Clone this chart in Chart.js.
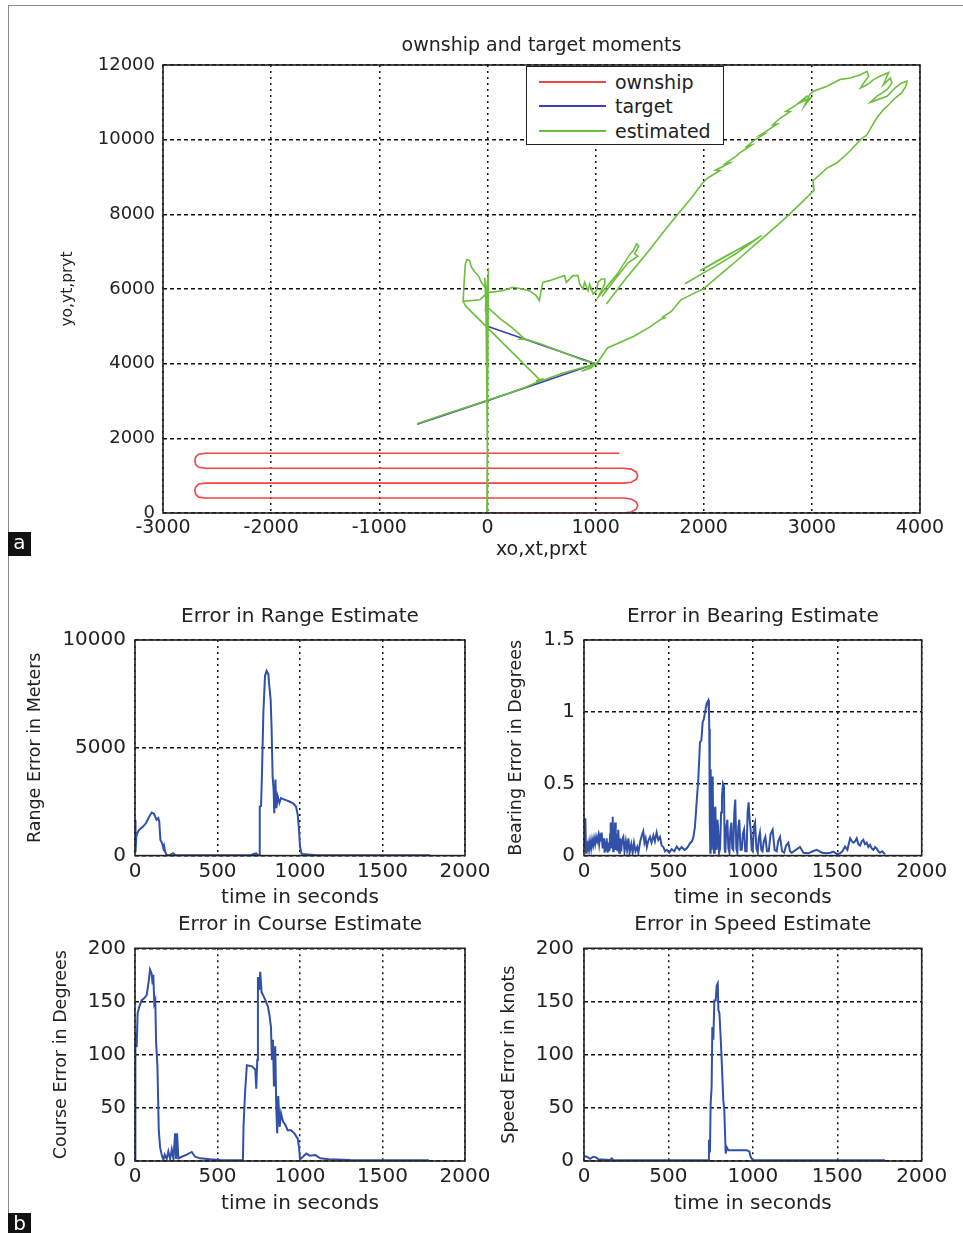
<!DOCTYPE html>
<html>
<head>
<meta charset="utf-8">
<title>ownship and target moments</title>
<script src="https://cdn.jsdelivr.net/npm/chart.js@4.4.0/dist/chart.umd.min.js"></script>
<style>
  body { margin: 0; background: #fff; }
  #page { position: relative; width: 963px; height: 1233px; overflow: hidden; background: #fff; }
  canvas { position: absolute; }
  .frame { position: absolute; left: 8px; top: 5px; width: 1000px; height: 1300px;
           border-left: 1.5px solid #8a8a8a; border-top: 1.5px solid #8a8a8a; }
  .tag { position: absolute; left: 8px; width: 23px; height: 24px; background: #111; color: #fff;
         font: 20px "DejaVu Sans", sans-serif; text-align: center; line-height: 21px; }
  #legend { position: absolute; left: 526px; top: 66px; width: 196px; height: 77px; background: #fff;
            border: 1.5px solid #222; font: 19px "DejaVu Sans", sans-serif; color: #222; }
  .entry { position: absolute; left: 12px; height: 24px; display: flex; align-items: center; white-space: nowrap; }
  .entry span { display: inline-block; width: 67px; height: 2px; margin-right: 9px; }
</style>
</head>
<body>
<div id="page">
  <div class="frame"></div>
  <canvas id="topChart" width="963" height="580" style="left:0;top:0"></canvas>
  <canvas id="rangeChart" width="495" height="335" style="left:0;top:585px"></canvas>
  <canvas id="bearingChart" width="483" height="335" style="left:480px;top:585px"></canvas>
  <canvas id="courseChart" width="495" height="330" style="left:0;top:895px"></canvas>
  <canvas id="speedChart" width="483" height="330" style="left:480px;top:895px"></canvas>
  <div id="legend"></div>
  <div class="tag" style="top:532px">a</div>
  <div class="tag" style="top:1213px">b</div>
</div>
<script>
const FONT = '"DejaVu Sans", Verdana, sans-serif';
const INK = '#222';

// ---- top plot: tracks in the x-y plane ----
const ownshipX = [0, 1260, 1330, 1375, 1390, 1375, 1330, 1260,
  -2610, -2670, -2698, -2705, -2698, -2670, -2610,
  1260, 1330, 1375, 1390, 1375, 1330, 1260,
  -2610, -2670, -2698, -2705, -2698, -2670, -2610, 1220];
const ownshipY = [0, 0, 25, 100, 200, 300, 375, 400,
  400, 425, 500, 600, 700, 775, 800,
  800, 825, 900, 1000, 1100, 1175, 1200,
  1200, 1225, 1300, 1400, 1500, 1575, 1600, 1600];

const targetX = [-650, 0, 500, 1000, 500, 0];
const targetY = [2380, 3010, 3500, 4000, 4500, 5000];

// estimated track, null = break in the line
const estX = [
  5, 0, -5, 10, -10, -25, 5, -15, 0, -5, 8, -20, 0, null,
  0, -30, -60, -80, -120, -150, -165, -190, -205, -215, -225, -70, -20, 0, null,
  -225, -200, 480, 450, 520, null,
  0, 5, 120, 230, 330, 300, 360, 500, 700, 880, 980, null,
  -650, -400, -100, 0, 200, 350, 480, 520, 700, 850,
  950, 1000, 930, 870, 960, 1020, 1110, 1350, 1500, 1600,
  1640, 1620, 1700, 1790, 1900, 2000, 2150, 2310, 2520, 2730,
  2900, 3020, 3010, 3140, 3230, 3350, 3450, 3510, 3555, 3600,
  3660, 3695, 3770, 3830, 3870, 3880, 3830, 3770, 3695, 3540,
  3600, 3695, 3740, 3725, 3660, 3710, 3630, 3570, 3510, 3450,
  3480, 3525, 3510, 3450, 3355, 3260, 3140, 3015, 2980, 2930,
  2990, 2900, 2960, 2850, 2760, 2800, 2700, 2640, 2680, 2580,
  2520, 2560, 2450, 2400, 2440, 2330, 2300, 2200, 2240, 2110,
  2150, 2040, 1990, 1880, 1760, 1620, 1500, 1400, 1280, 1100, null,
  0, 15, 140, 233, 326, 388, 450, 481, 496, 512,
  574, 667, 713, 729, 791, 837, 853, 884, 899, 930,
  946, 977, 1008, 1023, 1054, 1085, 1085, 1039, 1023, 1200,
  1320, 1350, 1380, 1400, 1360, 1390, 1300, 1150, 1060, null,
  1826, 2100, 2300, 2536, 2400, 2200, 1966, 2100, 2450
];
const estY = [
  0, 3000, 5200, 6560, 5300, 6300, 5100, 6000, 1600, 0, 6400, 5400, 6200, null,
  6000, 6070, 6200, 6340, 6470, 6600, 6760, 6790, 6650, 6200, 5670, 5710, 5850, 5900, null,
  5670, 5540, 3580, 3530, 3600, null,
  5900, 5500, 5200, 4960, 4700, 4660, 4650, 4520, 4300, 4100, 4020, null,
  2390, 2640, 2920, 3020, 3210, 3370, 3530, 3560, 3750, 3870,
  3950, 4000, 3870, 3800, 3890, 4040, 4420, 4730, 4980, 5180,
  5230, 5250, 5400, 5710, 5870, 6010, 6380, 6770, 7300, 7830,
  8300, 8640, 8900, 9240, 9375, 9690, 10000, 10130, 10360, 10580,
  10800, 10890, 11115, 11250, 11430, 11565, 11520, 11385, 11160, 11000,
  11160, 11340, 11520, 11650, 11470, 11800, 11700, 11610, 11470, 11385,
  11520, 11700, 11830, 11740, 11650, 11610, 11430, 11295, 11210, 10900,
  11120, 11000, 11180, 10920, 10760, 10750, 10560, 10400, 10420, 10230,
  10120, 10150, 9950, 9820, 9850, 9640, 9560, 9360, 9380, 9180,
  9170, 8980, 8840, 8420, 8000, 7500, 7050, 6700, 6280, 5600, null,
  5910, 5910, 5955, 6045, 6000, 5955, 5821, 5686, 5955, 6179,
  6224, 6314, 6359, 6179, 6359, 6359, 6135, 6000, 6179, 5955,
  6135, 5865, 5955, 6179, 6269, 6269, 6135, 5865, 5776, 6400,
  6940, 7030, 7210, 7150, 6950, 6880, 6700, 6150, 5800, null,
  6142, 6600, 6950, 7436, 7180, 6880, 6490, 6700, 7280
];

// ---- error plots (time in seconds) ----
const rangeTime = [0, 2, 4, 8, 14, 26, 46, 67, 87, 101, 115, 131, 141, 147, 154, 164, 172, 176, 182, 192,
  210, 232, 245, 300, 400, 500, 600, 700, 727, 732, 737, 745, 754, 756, 764, 770, 778, 788, 798, 808,
  814, 822, 828, 834, 840, 844, 851, 857, 865, 875, 885, 899, 919, 939, 960, 976, 986, 994, 1000, 1010,
  1100, 1300, 1500, 1700, 1788];
const rangeErr = [1500, 1660, 150, 890, 1050, 1200, 1320, 1510, 1820, 2000, 1940, 1660, 1740, 1580, 730, 580, 340, 450, 190, 30,
  20, 110, 20, 15, 15, 15, 15, 15, 100, 20, 90, 15, 20, 2280, 2300, 3910, 6630, 8340, 8570, 8420,
  7870, 7250, 5860, 3680, 3060, 1970, 3530, 2200, 2750, 2440, 2670, 2620, 2560, 2500, 2410, 2280, 1900, 1200, 420, 80,
  15, 15, 15, 15, 15];

const bearingTime = [0, 3, 5, 8, 12, 16, 20, 25, 30, 36,
  42, 48, 54, 60, 66, 72, 78, 85, 90, 95,
  100, 105, 110, 118, 122, 126, 130, 134, 140, 144,
  150, 155, 158, 162, 166, 170, 173, 176, 180, 184,
  188, 193, 198, 203, 208, 213, 220, 226, 233, 240,
  248, 255, 263, 270, 280, 288, 296, 305, 315, 322,
  333, 345, 351, 358, 365, 372, 380, 391, 400, 411,
  420, 430, 440, 450, 460, 470, 480, 490, 505, 519,
  535, 549, 565, 578, 595, 608, 620, 628, 640, 648,
  657, 667, 677, 687, 695, 703, 710, 717, 727, 736,
  740, 742, 744, 746, 748, 750, 753, 756, 759, 762,
  766, 770, 774, 778, 782, 786, 790, 794, 800, 806,
  812, 817, 823, 829, 833, 837, 843, 849, 855, 861,
  867, 873, 878, 884, 890, 896, 902, 908, 914, 920,
  927, 934, 941, 948, 955, 963, 969, 975, 981, 987,
  993, 999, 1006, 1013, 1021, 1029, 1035, 1042, 1050, 1057,
  1065, 1074, 1084, 1094, 1105, 1117, 1129, 1141, 1150, 1161,
  1173, 1185, 1197, 1210, 1220, 1230, 1255, 1279, 1300, 1329,
  1355, 1378, 1410, 1437, 1460, 1477, 1500, 1516, 1530, 1546,
  1560, 1576, 1586, 1595, 1605, 1615, 1625, 1635, 1645, 1654,
  1664, 1674, 1684, 1694, 1704, 1714, 1724, 1733, 1743, 1753,
  1765, 1777, 1783];
const bearingErr = [0.2, 0.26, 0.05, 0.26, 0.02, 0.1, 0.03, 0.08, 0.04, 0.1,
  0.05, 0.11, 0.07, 0.12, 0.08, 0.13, 0.1, 0.14, 0.08, 0.13,
  0.1, 0.16, 0.05, 0.12, 0.02, 0.1, 0.03, 0.12, 0.02, 0.09,
  0.03, 0.15, 0.23, 0.05, 0.2, 0.27, 0.03, 0.18, 0.05, 0.23,
  0.04, 0.15, 0.03, 0.18, 0.02, 0.12, 0.03, 0.11, 0.13, 0.03,
  0.1, 0.04, 0.12, 0.02, 0.08, 0.02, 0.09, 0.03, 0.06, 0.02,
  0.1, 0.15, 0.17, 0.09, 0.12, 0.06, 0.1, 0.13, 0.09, 0.14,
  0.1, 0.16, 0.11, 0.13, 0.07, 0.06, 0.03, 0.04, 0.02, 0.044,
  0.03, 0.063, 0.04, 0.06, 0.04, 0.05, 0.07, 0.086, 0.1, 0.13,
  0.2, 0.37, 0.53, 0.79, 0.8, 0.93, 0.95, 1.0, 1.06, 1.08,
  1.0, 0.88, 0.3, 0.23, 0.02, 0.6, 0.3, 0.04, 0.5, 0.55,
  0.1, 0.02, 0.3, 0.34, 0.1, 0.04, 0.25, 0.2, 0.02, 0.05,
  0.3, 0.41, 0.5, 0.48, 0.05, 0.02, 0.2, 0.25, 0.05, 0.02,
  0.18, 0.23, 0.05, 0.04, 0.3, 0.39, 0.05, 0.02, 0.2, 0.25,
  0.04, 0.04, 0.15, 0.18, 0.03, 0.03, 0.3, 0.37, 0.25, 0.18,
  0.04, 0.03, 0.2, 0.23, 0.05, 0.02, 0.12, 0.16, 0.04, 0.03,
  0.1, 0.13, 0.03, 0.03, 0.15, 0.18, 0.04, 0.03, 0.1, 0.13,
  0.03, 0.02, 0.07, 0.09, 0.03, 0.02, 0.04, 0.06, 0.02, 0.016,
  0.03, 0.04, 0.02, 0.016, 0.02, 0.028, 0.01, 0.016, 0.03, 0.063,
  0.04, 0.12, 0.1, 0.09, 0.1, 0.12, 0.08, 0.07, 0.1, 0.11,
  0.08, 0.09, 0.06, 0.075, 0.05, 0.04, 0.06, 0.05, 0.03, 0.02,
  0.03, 0.016, 0.01];

const courseTime = [0, 1, 4, 10, 16, 26, 40, 55, 71, 83, 91, 101, 107, 111, 117, 123, 128, 136, 144, 152,
  160, 172, 180, 192, 202, 213, 223, 233, 243, 249, 255, 263, 283, 314, 344, 364, 395, 455, 516, 654,
  658, 668, 678, 709, 729, 735, 741, 745, 753, 759, 767, 779, 791, 806, 816, 824, 830, 836, 842, 850,
  856, 862, 868, 877, 885, 897, 911, 925, 945, 966, 986, 994, 1000, 1018, 1038, 1059, 1093, 1123, 1174, 1306,
  1781];
const courseErr = [0, 107, 120, 107, 139, 145, 151, 153, 156, 169, 180, 176, 166, 175, 148, 151, 111, 89, 29, 13,
  7, 1, 6, 2, 9, 2, 11, 2, 26, 2, 26, 2.5, 4, 6, 8.5, 4, 2.5, 1.6, 1, 0.6,
  34, 67, 90, 89, 86, 68, 95, 173, 161, 178, 159, 155, 151, 145, 136, 126, 95, 114, 70, 108,
  51, 26, 61, 32, 45, 37, 34, 29, 29, 26, 21, 13, 1.6, 4, 7, 5, 5.6, 2.5, 1.6, 1,
  0.6];

const speedTime = [0, 16, 36, 55, 71, 85, 154, 164, 174, 300, 500, 736, 740, 746, 750, 756, 760, 766, 772, 780,
  786, 792, 796, 802, 810, 817, 825, 831, 839, 845, 855, 884, 963, 979, 987, 999, 1200, 1500, 1783];
const speedErr = [4.7, 4, 2, 4, 3.4, 1.6, 1, 2.5, 1, 0.8, 0.6, 0.6, 20, 8, 54, 70, 126, 114, 151, 151,
  165, 167, 142, 139, 114, 89, 57, 48, 7, 13, 10, 10, 10, 9, 4, 1, 0.6, 0.6, 0.6];

function pts(xs, ys) {
  return xs.map((x, i) => ({ x: x, y: ys[i] }));
}

// MATLAB style closed box round the plot area
const boxPlugin = {
  id: 'box',
  afterDatasetsDraw(chart) {
    const a = chart.chartArea;
    const ctx = chart.ctx;
    ctx.save();
    ctx.strokeStyle = INK;
    ctx.lineWidth = 1.6;
    ctx.strokeRect(a.left, a.top, a.right - a.left, a.bottom - a.top);
    ctx.restore();
  }
};

function line(label, data, color, width, order) {
  return {
    label: label, data: data, borderColor: color, backgroundColor: color,
    borderWidth: width, showLine: true, pointRadius: 0, tension: 0, order: order
  };
}

function makeChart(id, s) {
  return new Chart(document.getElementById(id), {
    type: 'scatter',
    data: { datasets: s.datasets },
    options: {
      responsive: false,
      animation: false,
      devicePixelRatio: 1,
      layout: { padding: { left: 0, top: 0, right: s.padRight, bottom: 0 } },
      plugins: {
        legend: { display: false },
        tooltip: { enabled: false },
        title: {
          display: true, text: s.title, color: INK, fullSize: false,
          font: { family: FONT, size: s.titleSize, weight: 'normal' },
          padding: { top: s.titleTop, bottom: s.titleBottom }
        }
      },
      scales: {
        x: {
          type: 'linear', min: s.x.min, max: s.x.max,
          afterFit: sc => { sc.height = s.x.height; },
          ticks: { stepSize: s.x.step, color: INK, padding: s.x.tickPad, maxRotation: 0, autoSkip: false,
                   font: { family: FONT, size: s.x.tickSize }, callback: v => String(v) },
          grid: { color: '#111', lineWidth: 1.5, drawTicks: false },
          border: { display: false, dash: [2, 4] },
          title: { display: true, text: s.x.title, color: INK,
                   font: { family: FONT, size: s.x.titleSize, weight: 'normal' },
                   padding: { top: 0, bottom: s.x.titlePad } }
        },
        y: {
          type: 'linear', min: s.y.min, max: s.y.max,
          afterFit: sc => { sc.width = s.y.width; },
          ticks: { stepSize: s.y.step, color: INK, padding: s.y.tickPad, autoSkip: false,
                   font: { family: FONT, size: s.y.tickSize }, callback: v => String(v) },
          grid: { color: '#111', lineWidth: 1.5, drawTicks: false },
          border: { display: false, dash: [4, 3] },
          title: { display: true, text: s.y.title, color: INK,
                   font: { family: FONT, size: s.y.titleSize, weight: 'normal' },
                   padding: { top: s.y.titlePad, bottom: 0 } }
        }
      }
    },
    plugins: [boxPlugin]
  });
}

const topChart = makeChart('topChart', {
  title: 'ownship and target moments', titleSize: 19, titleTop: 35, titleBottom: 7.2, padRight: 43,
  datasets: [
    line('ownship', pts(ownshipX, ownshipY), '#ee4444', 1.6, 2),
    line('target', pts(targetX, targetY), '#3d3db8', 1.6, 1),
    line('estimated', pts(estX, estY), '#6cbf3c', 1.6, 0)
  ],
  x: { min: -3000, max: 4000, step: 1000, height: 67, tickSize: 19, tickPad: 3.6,
       title: 'xo,xt,prxt', titleSize: 19, titlePad: 18.6 },
  y: { min: 0, max: 12000, step: 2000, width: 163, tickSize: 18, tickPad: 8,
       title: 'yo,yt,pryt', titleSize: 15.5, titlePad: 58.7 }
});

const BLUE = '#3150a8';
const timeAxis = { min: 0, max: 2000, step: 500, tickSize: 20, tickPad: 4, title: 'time in seconds', titleSize: 20 };

makeChart('rangeChart', {
  title: 'Error in Range Estimate', titleSize: 20, titleTop: 20, titleBottom: 11, padRight: 30,
  datasets: [line('range', pts(rangeTime, rangeErr), BLUE, 2, 0)],
  x: Object.assign({}, timeAxis, { height: 64.4, titlePad: 10 }),
  y: { min: 0, max: 10000, step: 5000, width: 135, tickSize: 20, tickPad: 9,
       title: 'Range Error in Meters', titleSize: 17.5, titlePad: 24.5 }
});

makeChart('bearingChart', {
  title: 'Error in Bearing Estimate', titleSize: 20, titleTop: 20, titleBottom: 11, padRight: 41.3,
  datasets: [line('bearing', pts(bearingTime, bearingErr), BLUE, 2, 0)],
  x: Object.assign({}, timeAxis, { height: 64.4, titlePad: 10 }),
  y: { min: 0, max: 1.5, step: 0.5, width: 104, tickSize: 20, tickPad: 9,
       title: 'Bearing Error in Degrees', titleSize: 17.5, titlePad: 25.5 }
});

makeChart('courseChart', {
  title: 'Error in Course Estimate', titleSize: 20, titleTop: 18, titleBottom: 11.3, padRight: 30,
  datasets: [line('course', pts(courseTime, courseErr), BLUE, 2, 0)],
  x: Object.assign({}, timeAxis, { height: 64, titlePad: 9 }),
  y: { min: 0, max: 200, step: 50, width: 135, tickSize: 20, tickPad: 9,
       title: 'Course Error in Degrees', titleSize: 17.5, titlePad: 51.2 }
});

makeChart('speedChart', {
  title: 'Error in Speed Estimate', titleSize: 20, titleTop: 18, titleBottom: 11.3, padRight: 41.3,
  datasets: [line('speed', pts(speedTime, speedErr), BLUE, 2, 0)],
  x: Object.assign({}, timeAxis, { height: 64, titlePad: 9 }),
  y: { min: 0, max: 200, step: 50, width: 104, tickSize: 20, tickPad: 10,
       title: 'Speed Error in knots', titleSize: 17.5, titlePad: 18.5 }
});

// legend box drawn over the top plot, built from the chart's own datasets
const legend = document.getElementById('legend');
topChart.data.datasets.forEach((ds, i) => {
  const row = document.createElement('div');
  row.className = 'entry';
  row.style.top = (2.5 + i * 24.5) + 'px';
  row.innerHTML = `<span style="background:${ds.borderColor}"></span>${ds.label}`;
  legend.appendChild(row);
});
</script>
</body>
</html>
